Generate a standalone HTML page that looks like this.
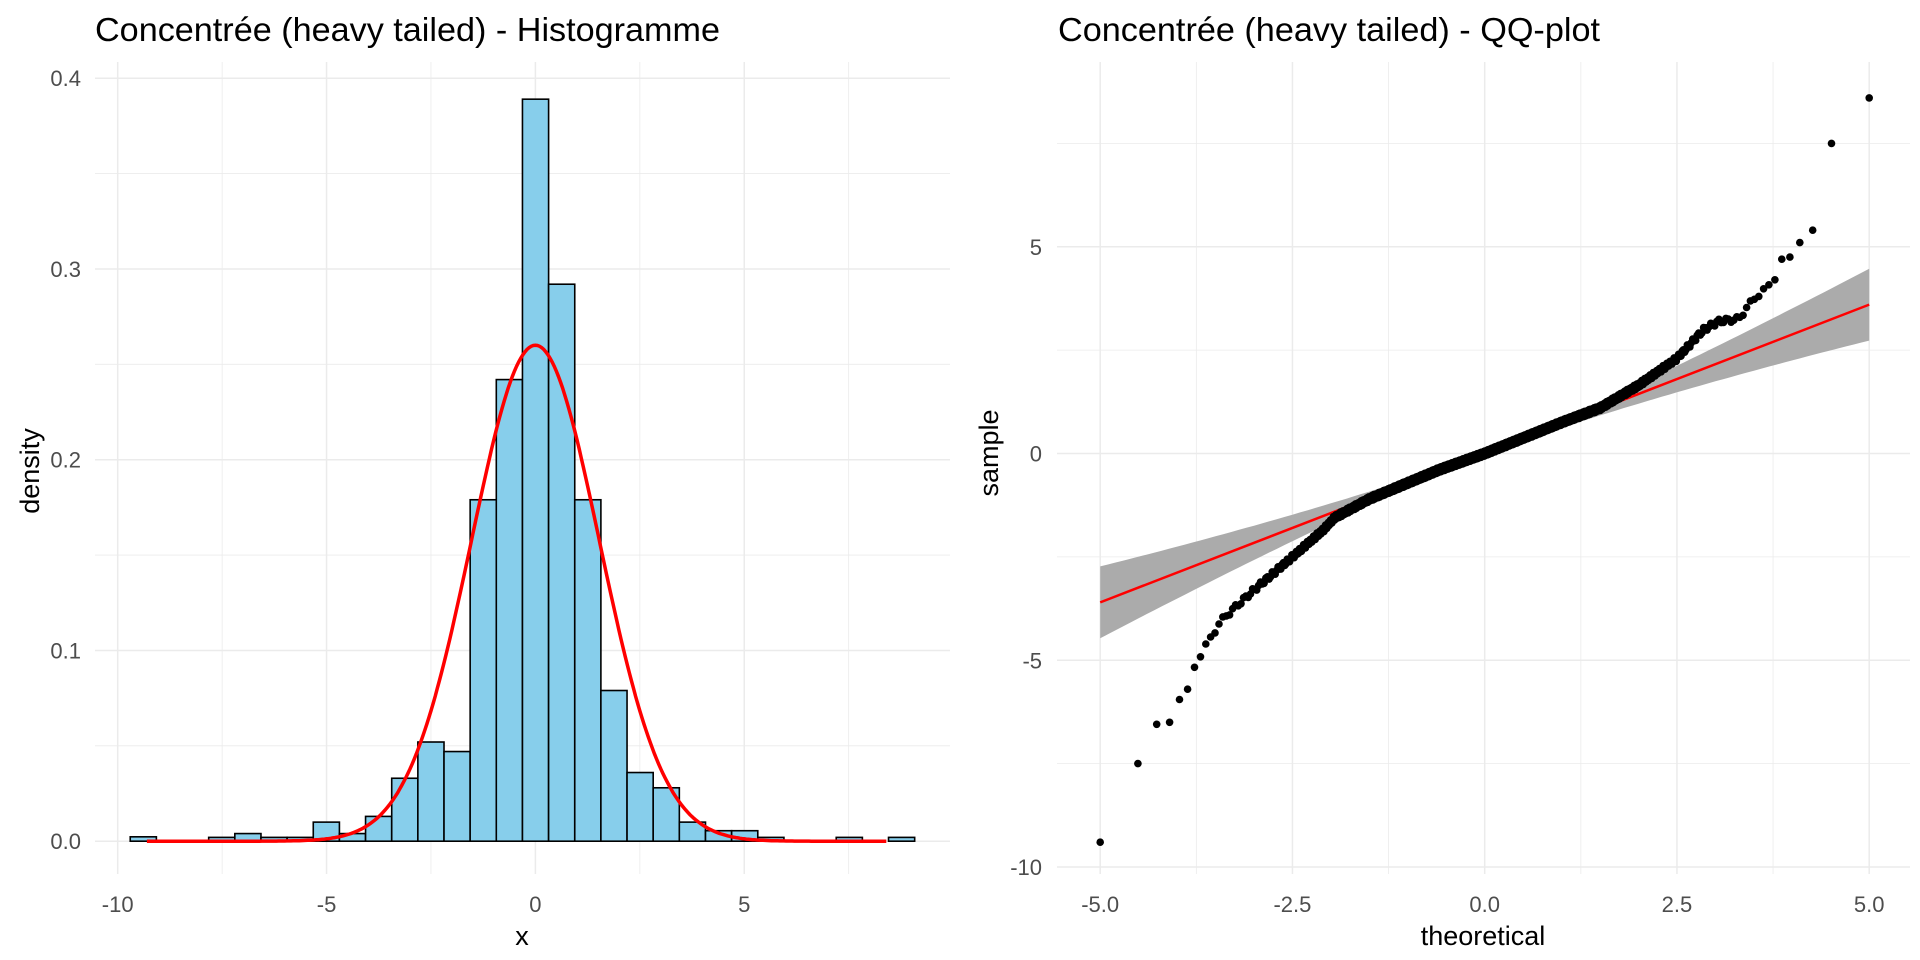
<!DOCTYPE html>
<html><head><meta charset="utf-8"><style>
html,body{margin:0;padding:0;background:#fff;}
svg{display:block;font-family:"Liberation Sans",Arial,sans-serif;}
</style></head><body>
<svg id="s" width="1920" height="960" viewBox="0 0 1920 960" xmlns="http://www.w3.org/2000/svg">
<rect width="1920" height="960" fill="#fff"/>
<g id="grid"></g>
<g id="bars" stroke="#000" stroke-width="1.6" fill="#87ceeb"></g>
<path id="dens" fill="none" stroke="#ff0000" stroke-width="3.5"/>
<path id="band" fill="#ababab" stroke="none"/>
<line id="fit" stroke="#ff0000" stroke-width="2.5"/>
<g id="pts" fill="#000"></g>
<g id="lbl" font-size="22" fill="#4d4d4d"></g>
<text x="95" y="41" font-size="33" fill="#000" textLength="625" lengthAdjust="spacingAndGlyphs">Concentrée (heavy tailed) - Histogramme</text>
<text x="1058" y="41" font-size="33" fill="#000" textLength="542" lengthAdjust="spacingAndGlyphs">Concentrée (heavy tailed) - QQ-plot</text>
<text x="522" y="945" font-size="27" fill="#000" text-anchor="middle">x</text>
<text x="1483" y="945" font-size="27" fill="#000" text-anchor="middle">theoretical</text>
<text transform="translate(39,471) rotate(-90)" font-size="27" fill="#000" text-anchor="middle">density</text>
<text transform="translate(998,453) rotate(-90)" font-size="27" fill="#000" text-anchor="middle">sample</text>
</svg>
<script>
var NS="http://www.w3.org/2000/svg";
function el(p,t,a){var e=document.createElementNS(NS,t);for(var k in a)e.setAttribute(k,a[k]);p.appendChild(e);return e;}
var grid=document.getElementById('grid'),lbl=document.getElementById('lbl');
var L={x0:95,x1:950,y0:62,y1:874};
function lx(x){return 535.4+41.77*x;} function ly(v){return 841.2-1907.5*v;}
function hl(x0,x1,y,w){el(grid,'line',{x1:x0,x2:x1,y1:y,y2:y,stroke:'#ebebeb','stroke-width':w});}
function vl(y0,y1,x,w){el(grid,'line',{x1:x,x2:x,y1:y0,y2:y1,stroke:'#ebebeb','stroke-width':w});}
[0.05,0.15,0.25,0.35].forEach(function(v){hl(L.x0,L.x1,ly(v),0.8);});
[-7.5,-2.5,2.5,7.5].forEach(function(v){vl(L.y0,L.y1,lx(v),0.8);});
[0,0.1,0.2,0.3,0.4].forEach(function(v){hl(L.x0,L.x1,ly(v),1.5);el(lbl,'text',{x:81,y:ly(v)+8,'text-anchor':'end'}).textContent=v.toFixed(1);});
[-10,-5,0,5].forEach(function(v){vl(L.y0,L.y1,lx(v),1.5);el(lbl,'text',{x:lx(v),y:912,'text-anchor':'middle'}).textContent=v;});
var R={x0:1057,x1:1910,y0:62,y1:874};
function rx(x){return 1484.7+76.9*x;} function ry(v){return 453.5-41.35*v;}
[-7.5,-2.5,2.5,7.5].forEach(function(v){hl(R.x0,R.x1,ry(v),0.8);});
[-3.75,-1.25,1.25,3.75].forEach(function(v){vl(R.y0,R.y1,rx(v),0.8);});
[-10,-5,0,5].forEach(function(v){hl(R.x0,R.x1,ry(v),1.5);el(lbl,'text',{x:1042,y:ry(v)+8,'text-anchor':'end'}).textContent=v;});
[-5,-2.5,0,2.5,5].forEach(function(v){vl(R.y0,R.y1,rx(v),1.5);el(lbl,'text',{x:rx(v),y:912,'text-anchor':'middle'}).textContent=v.toFixed(1);});
var h=[.0023,0,0,.002,.004,.002,.002,.010,.004,.013,.033,.052,.047,.179,.242,.389,.292,.179,.079,.036,.028,.010,.0055,.0055,.002,0,0,.002,0,.002];
var bw=0.626,e0=-0.31-15*0.626,bars=document.getElementById('bars');
h.forEach(function(v,i){if(!v)return;var a=lx(e0+i*bw),b=lx(e0+(i+1)*bw);el(bars,'rect',{x:a,y:ly(v),width:b-a,height:ly(0)-ly(v)});});
var d="";for(var x=-9.3;x<=8.4;x+=0.05){var v=0.26*Math.exp(-x*x/(2*1.53*1.53));d+=(d?"L":"M")+lx(x).toFixed(1)+","+ly(v).toFixed(1);}
document.getElementById('dens').setAttribute('d',d);
var up="",lo=[];for(var t=-5;t<=5.001;t+=0.1){var m=0.72*t,hw=0.85*Math.pow(Math.abs(t)/5,1.5)+0.02;up+=(up?"L":"M")+rx(t).toFixed(1)+","+ry(m+hw).toFixed(1);lo.unshift("L"+rx(t).toFixed(1)+","+ry(m-hw).toFixed(1));}
document.getElementById('band').setAttribute('d',up+lo.join("")+"Z");
var f=document.getElementById('fit');f.setAttribute('x1',rx(-5));f.setAttribute('y1',ry(-3.6));f.setAttribute('x2',rx(5));f.setAttribute('y2',ry(3.6));
function qn(p){var a=[-39.696830,220.946098,-275.928510,138.357751,-30.664798,2.506628],b=[-54.476098,161.585836,-155.698979,66.801311,-13.280681],c=[-0.007784894,-0.3223964,-2.400758,-2.549732,4.374664,2.938163],dd=[0.007784695,0.3224671,2.445134,3.754408],q,r;
if(p<0.02425){q=Math.sqrt(-2*Math.log(p));return(((((c[0]*q+c[1])*q+c[2])*q+c[3])*q+c[4])*q+c[5])/((((dd[0]*q+dd[1])*q+dd[2])*q+dd[3])*q+1);}
if(p>1-0.02425){q=Math.sqrt(-2*Math.log(1-p));return-(((((c[0]*q+c[1])*q+c[2])*q+c[3])*q+c[4])*q+c[5])/((((dd[0]*q+dd[1])*q+dd[2])*q+dd[3])*q+1);}
q=p-0.5;r=q*q;return(((((a[0]*r+a[1])*r+a[2])*r+a[3])*r+a[4])*r+a[5])*q/(((((b[0]*r+b[1])*r+b[2])*r+b[3])*r+b[4])*r+1);}
var K=[[-5.2,-9.8],[-3.75,-5.05],[-3.45,-4.1],[-3.35,-3.9],[-3,-3.3],[-2.5,-2.5],[-2.1,-1.85],[-1.95,-1.55],[-1.5,-1.1],[-0.6,-0.4],[0,0],[0.6,0.45],[1,0.75],[1.5,1.1],[2,1.65],[2.5,2.3],[2.85,3.0],[3.05,3.2],[3.3,3.25],[3.5,3.75],[3.7,4.05],[3.9,4.6],[5.2,5.5]];
function map(t){for(var i=0;i<K.length-1;i++)if(t<=K[i+1][0]){var u=(t-K[i][0])/(K[i+1][0]-K[i][0]);return K[i][1]+u*(K[i+1][1]-K[i][1]);}return K[K.length-1][1];}
var pts=document.getElementById('pts'),n=1000,sc=5/qn((n-0.5)/n);
var fixed={0:-9.4,1:-7.5,2:-6.55,3:-6.5,4:-5.95,5:-5.7,994:4.7,995:4.75,996:5.1,997:5.4,998:7.5,999:8.6};
for(var i=0;i<n;i++){var t=sc*qn((i+0.5)/n);var s=fixed.hasOwnProperty(i)?fixed[i]:map(t);s+=(fixed.hasOwnProperty(i)?0:0.06*Math.sin(i*1.7));el(pts,'circle',{cx:rx(t).toFixed(1),cy:ry(s).toFixed(1),r:3.8});}
</script>
</body></html>
